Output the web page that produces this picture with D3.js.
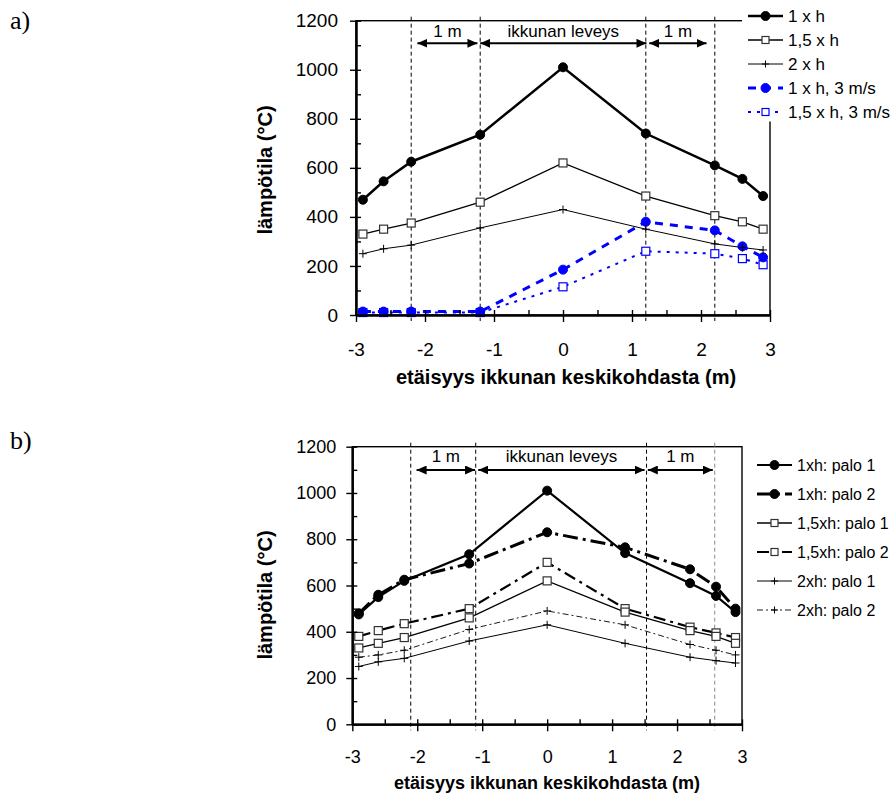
<!DOCTYPE html>
<html>
<head>
<meta charset="utf-8">
<script src="https://cdn.jsdelivr.net/npm/d3@7/dist/d3.min.js"></script>
<style>
  body { margin: 0; background: #fff; }
  svg { display: block; }
</style>
</head>
<body>
<svg id="chart" width="893" height="793"></svg>
<script>
// distances from the window centre (m)
var distances = [-2.9, -2.6, -2.2, -1.2, 0, 1.2, 2.2, 2.6, 2.9];

// panel a) temperatures (°C)
var a1xh    = [470, 545, 625, 735, 1010, 740, 610, 555, 485];
var a15xh   = [330, 350, 375, 460, 620, 485, 405, 380, 350];
var a2xh    = [250, 270, 285, 355, 430, 350, 290, 275, 265];
var a1xh3   = [14, 14, 14, 14, 185, 380, 345, 280, 235];
var a15xh3  = [10, 10, 10, 10, 115, 260, 250, 230, 205];

// panel b) temperatures (°C)
var b1p1    = [475, 550, 620, 735, 1010, 740, 610, 555, 485];
var b1p2    = [480, 560, 625, 695, 830, 765, 670, 595, 500];
var b15p1   = [330, 350, 375, 460, 620, 485, 405, 380, 350];
var b15p2   = [380, 405, 435, 500, 700, 500, 420, 395, 375];
var b2p1    = [250, 270, 285, 360, 430, 350, 290, 275, 265];
var b2p2    = [290, 300, 320, 410, 490, 430, 345, 320, 300];

// window / 1 m zone limits and their labels
var guidesA = [-2.2, -1.2, 1.2, 2.2];
var guidesB = [-2.1, -1.1, 1.53, 2.58];
var spanLabels = ['1 m', 'ikkunan leveys', '1 m'];
var spansA = [[-2.11, -1.24], [-1.2, 1.21], [1.25, 2.08]];
var spansB = [[-2.01, -1.11], [-1.06, 1.5], [1.55, 2.55]];

var xTicks = [-3, -2, -1, 0, 1, 2, 3];
var xMinor = d3.range(-3, 3.01, 0.5);
var yTicks = [0, 200, 400, 600, 800, 1000, 1200];
var yMinor = d3.range(0, 1201, 100);

var FONT = "'Liberation Sans', Arial, sans-serif";
var BLUE = '#0000ff';
var svg = d3.select('#chart');

var defs = svg.append('defs');
defs.append('marker')
    .attr('id', 'head')
    .attr('markerUnits', 'userSpaceOnUse')
    .attr('markerWidth', 10).attr('markerHeight', 9)
    .attr('refX', 10).attr('refY', 4.5)
    .attr('orient', 'auto-start-reverse')
  .append('path')
    .attr('d', 'M0,0L10,4.5L0,9Z')
    .attr('fill', '#000');

var seriesA = [
  {name: '1 x h', values: a1xh, color: '#000', width: 2.5, dash: null, mark: 'circle', fill: '#000', mstroke: '#000'},
  {name: '1,5 x h', values: a15xh, color: '#000', width: 1.3, dash: null, mark: 'square', fill: '#fff', mstroke: '#333'},
  {name: '2 x h', values: a2xh, color: '#000', width: 1, dash: null, mark: 'plus', fill: 'none', mstroke: '#000'},
  {name: '1 x h, 3 m/s', values: a1xh3, color: BLUE, width: 3, dash: '8,7', mark: 'circle', fill: BLUE, mstroke: BLUE},
  {name: '1,5 x h, 3 m/s', values: a15xh3, color: BLUE, width: 2, dash: '3,6', mark: 'square', fill: '#fff', mstroke: BLUE}
];

var seriesB = [
  {name: '1xh: palo 1', values: b1p1, color: '#000', width: 2.2, dash: null, mark: 'circle', fill: '#000', mstroke: '#000'},
  {name: '1xh: palo 2', values: b1p2, color: '#000', width: 3, dash: '15,5,3,5', mark: 'circle', fill: '#000', mstroke: '#000'},
  {name: '1,5xh: palo 1', values: b15p1, color: '#000', width: 1.3, dash: null, mark: 'square', fill: '#fff', mstroke: '#333'},
  {name: '1,5xh: palo 2', values: b15p2, color: '#000', width: 2.2, dash: '12,5,3,5', mark: 'square', fill: '#fff', mstroke: '#333'},
  {name: '2xh: palo 1', values: b2p1, color: '#000', width: 1, dash: null, mark: 'plus', fill: 'none', mstroke: '#000'},
  {name: '2xh: palo 2', values: b2p2, color: '#000', width: 0.9, dash: '6,3,2,3', mark: 'plus', fill: 'none', mstroke: '#000'}
];

function drawMark(g, s, cx, cy, size) {
  if (s.mark === 'circle') {
    g.append('circle').attr('cx', cx).attr('cy', cy).attr('r', size / 2)
      .attr('fill', s.fill).attr('stroke', s.mstroke).attr('stroke-width', 1);
  } else if (s.mark === 'square') {
    g.append('rect').attr('x', cx - size / 2).attr('y', cy - size / 2)
      .attr('width', size).attr('height', size)
      .attr('fill', s.fill).attr('stroke', s.mstroke).attr('stroke-width', 1.2);
  } else {
    var h = size / 2;
    g.append('path')
      .attr('d', 'M' + (cx - h) + ',' + cy + 'H' + (cx + h) + 'M' + cx + ',' + (cy - h) + 'V' + (cy + h))
      .attr('stroke', s.mstroke).attr('stroke-width', 1);
  }
}

function plain(d) { return String(d); }

function drawPanel(p) {
  var x = d3.scaleLinear().domain([-3, 3]).range([p.left, p.left + p.width]);
  var y = d3.scaleLinear().domain([0, 1200]).range([p.top + p.height, p.top]);
  var g = svg.append('g');

  // plot frame
  g.append('rect')
    .attr('x', p.left).attr('y', p.top)
    .attr('width', p.width).attr('height', p.height)
    .attr('fill', 'none').attr('stroke', '#000').attr('stroke-width', 1.4);

  // dashed zone limits
  g.selectAll('line.guide').data(p.guides).enter().append('line')
    .attr('class', 'guide')
    .attr('x1', function (d) { return x(d); })
    .attr('x2', function (d) { return x(d); })
    .attr('y1', p.top - 4)
    .attr('y2', p.top + p.height + 6)
    .attr('stroke', function (d, i) { return i === 3 ? p.lastGuide : '#000'; })
    .attr('stroke-width', 1)
    .attr('stroke-dasharray', '4,3');

  // span arrows with their labels
  p.spans.forEach(function (s, i) {
    g.append('line')
      .attr('x1', x(s[0])).attr('x2', x(s[1]))
      .attr('y1', p.top + p.arrowDy).attr('y2', p.top + p.arrowDy)
      .attr('stroke', '#000').attr('stroke-width', 2)
      .attr('marker-start', 'url(#head)').attr('marker-end', 'url(#head)');
    g.append('text')
      .attr('x', (x(s[0]) + x(s[1])) / 2)
      .attr('y', p.top + p.textDy)
      .attr('text-anchor', 'middle')
      .attr('font-family', FONT).attr('font-size', 17)
      .text(spanLabels[i]);
  });

  // series lines, then markers on top (first series last)
  var line = d3.line()
    .x(function (d, i) { return x(distances[i]); })
    .y(function (d) { return y(d); });

  p.series.forEach(function (s) {
    g.append('path')
      .datum(s.values)
      .attr('d', line)
      .attr('fill', 'none')
      .attr('stroke', s.color)
      .attr('stroke-width', s.width)
      .attr('stroke-dasharray', s.dash);
  });
  p.series.slice().reverse().forEach(function (s) {
    var mg = g.append('g');
    s.values.forEach(function (v, i) {
      drawMark(mg, s, x(distances[i]), y(v), s.mark === 'circle' ? 9 : 8);
    });
  });

  // axes: major ticks cross the axis, minor ticks point inside
  var bottom = p.top + p.height;
  g.append('g')
    .attr('transform', 'translate(' + p.left + ',0)')
    .call(d3.axisLeft(y).tickValues(yTicks).tickSize(6).tickPadding(p.yPad).tickSizeOuter(0)
      .tickFormat(plain));
  g.append('g')
    .attr('transform', 'translate(' + p.left + ',0)')
    .call(d3.axisRight(y).tickValues(yMinor).tickSize(5).tickFormat('').tickSizeOuter(0));
  g.append('g')
    .attr('transform', 'translate(0,' + bottom + ')')
    .call(d3.axisBottom(x).tickValues(xTicks).tickSize(7).tickPadding(p.xPad).tickSizeOuter(0)
      .tickFormat(plain));
  g.append('g')
    .attr('transform', 'translate(0,' + bottom + ')')
    .call(d3.axisTop(x).tickValues(xMinor).tickSize(5).tickFormat('').tickSizeOuter(0));

  g.selectAll('.domain').attr('stroke-width', 2);
  g.selectAll('.tick line').attr('stroke-width', 1.4);
  g.selectAll('.tick text')
    .attr('font-family', FONT)
    .attr('font-size', p.tickFont)
    .attr('fill', '#000');

  // axis titles
  g.append('text')
    .attr('x', p.xTitleX).attr('y', p.xTitleY)
    .attr('text-anchor', 'middle')
    .attr('font-family', FONT).attr('font-weight', 'bold').attr('font-size', p.xTitleFont)
    .text('etäisyys ikkunan keskikohdasta (m)');
  g.append('text')
    .attr('transform', 'translate(' + p.yTitleX + ',' + p.yTitleY + ') rotate(-90)')
    .attr('text-anchor', 'middle')
    .attr('dominant-baseline', 'central')
    .attr('font-family', FONT).attr('font-weight', 'bold').attr('font-size', 20)
    .text('lämpötila (°C)');

  // panel letter
  g.append('text')
    .attr('x', 10).attr('y', p.letterY)
    .attr('font-family', "'Liberation Serif', 'Times New Roman', serif")
    .attr('font-size', 26)
    .text(p.letter);

  // legend
  var lg = g.append('g');
  if (p.legendBg) {
    lg.append('rect')
      .attr('x', p.legendBg[0]).attr('y', p.legendBg[1])
      .attr('width', p.legendBg[2]).attr('height', p.legendBg[3])
      .attr('fill', '#fff');
  }
  p.series.forEach(function (s, i) {
    var ly = p.legendY + i * p.legendStep;
    lg.append('line')
      .attr('x1', p.legendX).attr('x2', p.legendX + 35)
      .attr('y1', ly).attr('y2', ly)
      .attr('stroke', s.color)
      .attr('stroke-width', s.width)
      .attr('stroke-dasharray', s.dash);
    drawMark(lg, s, p.legendX + 17.5, ly, s.mark === 'circle' ? 9 : 7);
    lg.append('text')
      .attr('x', p.legendX + 40).attr('y', ly)
      .attr('dominant-baseline', 'central')
      .attr('font-family', FONT).attr('font-size', p.legendFont)
      .text(s.name);
  });
}

drawPanel({
  letter: 'a)', letterY: 29,
  left: 356, top: 20.7, width: 414, height: 294.3,
  series: seriesA, guides: guidesA, spans: spansA, lastGuide: '#000',
  arrowDy: 22.6, textDy: 16,
  yPad: 12, xPad: 21, tickFont: 19,
  xTitleX: 566, xTitleY: 384, xTitleFont: 20,
  yTitleX: 265, yTitleY: 170,
  legendBg: [742, 0, 151, 121.5],
  legendX: 748, legendY: 16, legendStep: 24, legendFont: 17
});

drawPanel({
  letter: 'b)', letterY: 449,
  left: 352.3, top: 446.7, width: 389.7, height: 277.6,
  series: seriesB, guides: guidesB, spans: spansB, lastGuide: '#888',
  arrowDy: 23.3, textDy: 15,
  yPad: 10, xPad: 19, tickFont: 18,
  xTitleX: 547, xTitleY: 789, xTitleFont: 18,
  yTitleX: 265, yTitleY: 595,
  legendBg: null,
  legendX: 757, legendY: 465, legendStep: 29, legendFont: 16
});
</script>
</body>
</html>
